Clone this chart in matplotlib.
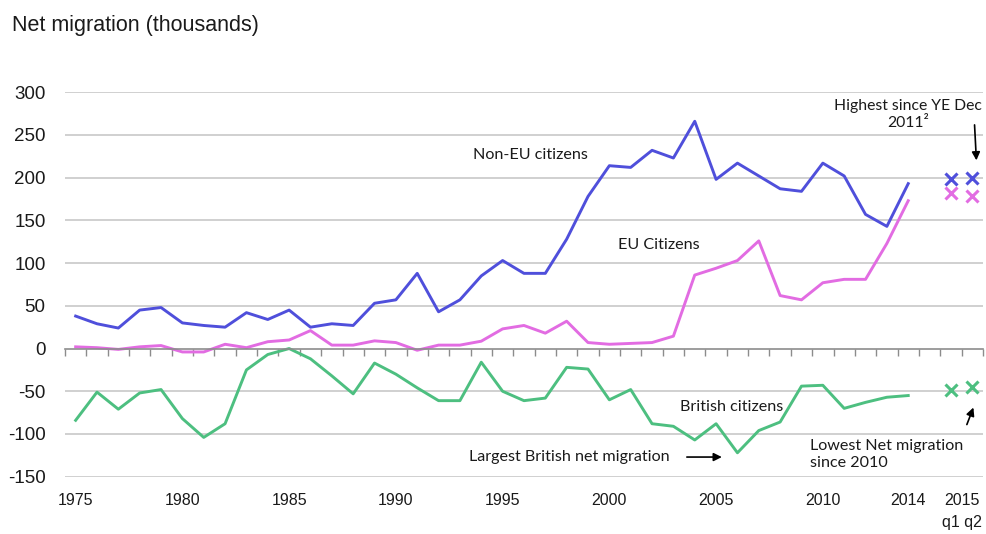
import matplotlib
matplotlib.use('Agg')
import matplotlib.pyplot as plt
import numpy as np

years = list(range(1975, 2015))
quarters = ['q1', 'q2']

non_eu = [38, 29, 24, 45, 48, 30, 27, 25, 42, 34, 45, 25, 29, 27, 53, 57, 88, 43, 57, 85,
          103, 88, 88, 128, 178, 214, 212, 232, 223, 266, 198, 217, 202, 187, 184, 217,
          202, 157, 143, 193]
eu = [2, 1, -1, 2, 3.5, -4, -4, 5, 1, 8, 10, 21, 4, 4, 9, 7, -2, 4, 4, 8.6,
      23, 27, 18, 32, 7, 5, 6, 7, 14.5, 86, 94, 103, 126, 62, 57, 77, 81, 81, 123, 173]
british = [-84, -51, -71, -52, -48, -82, -104, -88, -25, -7, 0, -12, -32, -53, -17, -30,
           -46, -61, -61, -16, -50, -61, -58, -22, -24, -60, -48, -88, -91, -107, -88,
           -122, -96, -86, -44, -43, -70, -63, -57, -55]

non_eu_q = [199, 200]
eu_q = [182, 178]
british_q = [-48, -45]

year_labels = ['1975', '1980', '1985', '1990', '1995', '2000', '2005', '2010', '2014']

c_blue = '#4F4FDB'
c_pink = '#E26CE2'
c_green = '#4DBF80'
ann_font = ['Lato', 'DejaVu Sans']
txt = '#1a1a1a'

fig = plt.figure(figsize=(9.86, 5.34), dpi=100)
ax = fig.add_axes([0.0659, 0.1073, 0.931, 0.72])

x = np.arange(len(years))
xq = np.array([len(years) + 1, len(years) + 2])

ax.plot(x, non_eu, color=c_blue, lw=2.1)
ax.plot(x, eu, color=c_pink, lw=2.1)
ax.plot(x, british, color=c_green, lw=2.1)
ax.plot(xq, non_eu_q, 'x', color=c_blue, ms=8, mew=2.2, ls='none')
ax.plot(xq, eu_q, 'x', color=c_pink, ms=8, mew=2.2, ls='none')
ax.plot(xq, british_q, 'x', color=c_green, ms=8, mew=2.2, ls='none')

ax.set_xlim(-0.5, len(years) + 2.5)
ax.set_ylim(-150, 300)
ax.set_yticks(np.arange(-150, 301, 50))
ax.set_yticklabels([str(v) for v in range(-150, 301, 50)], family=['Liberation Sans'],
                   fontsize=13.5, color=txt)
ax.tick_params(axis='y', length=0, pad=14)
for v in range(-150, 301, 50):
    if v != 0:
        ax.axhline(v, color='#C8C8C8', lw=1.2, zorder=0)

for side in ['top', 'right', 'left']:
    ax.spines[side].set_visible(False)
ax.spines['bottom'].set_position(('data', 0))
ax.spines['bottom'].set_color('#8C8C8C')
ax.spines['bottom'].set_linewidth(1.2)
ax.set_xticks(np.arange(-0.5, len(years) + 3, 1.0))
ax.set_xticklabels([])
ax.tick_params(axis='x', direction='out', length=5, width=1.0, color='#8C8C8C')

for lab in year_labels:
    ax.text(years.index(int(lab)), -178, lab, ha='center', va='center', fontsize=11.5,
            family=['Liberation Sans'], color=txt, clip_on=False)
ax.text(xq.mean(), -178, '2015', ha='center', va='center', fontsize=11.5,
        family=['Liberation Sans'], color=txt, clip_on=False)
ax.text(xq.mean(), -204, ' '.join(quarters), ha='center', va='center', fontsize=11.5,
        family=['Liberation Sans'], color=txt, clip_on=False)

fig.text(0.012, 1 - 25 / 534, 'Net migration (thousands)', fontsize=15.5,
         family=['Liberation Sans'], color=txt, va='center', ha='left')

ax.text(18.6, 226, 'Non-EU citizens', fontsize=11.6, family=ann_font, va='center', color=txt)
ax.text(25.4, 121, 'EU Citizens', fontsize=11.6, family=ann_font, va='center', color=txt)
ax.text(28.3, -69, 'British citizens', fontsize=11.6, family=ann_font, va='center', color=txt)
ax.text(27.8, -127, 'Largest British net migration', fontsize=11.6, family=ann_font,
        va='center', ha='right', color=txt)
ax.annotate('', xy=(30.4, -127), xytext=(28.5, -127),
            arrowprops=dict(arrowstyle='-|>', color='black', lw=1.2, mutation_scale=12))
ax.text(34.4, -124, 'Lowest Net migration\nsince 2010', fontsize=11.6, family=ann_font,
        va='center', ha='left', linespacing=1.3, color=txt, clip_on=False)
ax.annotate('', xy=(42.1, -66), xytext=(41.7, -92),
            arrowprops=dict(arrowstyle='-|>', color='black', lw=1.2, mutation_scale=12))
ax.text(39.0, 274, 'Highest since YE Dec\n2011\u00b2', fontsize=11.3, family=ann_font,
        va='center', ha='center', linespacing=1.3, color=txt, clip_on=False)
ax.annotate('', xy=(42.2, 217), xytext=(42.1, 265),
            arrowprops=dict(arrowstyle='-|>', color='black', lw=1.2, mutation_scale=12))

fig.savefig('out.png', dpi=100)
